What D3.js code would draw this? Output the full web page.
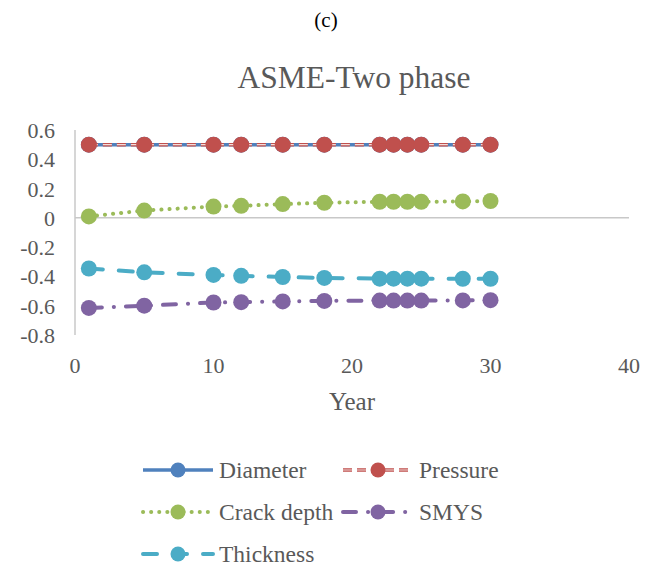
<!DOCTYPE html>
<html><head><meta charset="utf-8">
<script src="https://cdn.jsdelivr.net/npm/d3@7"></script>
<style>body{margin:0;background:#fff}svg{display:block}
text{font-family:"Liberation Serif","Times New Roman","DejaVu Serif",serif;}</style>
</head><body>
<script>
const years = [1,5,10,12,15,18,22,23,24,25,28,30];
const diameter = [0.5,0.5,0.5,0.5,0.5,0.5,0.5,0.5,0.5,0.5,0.5,0.5];
const pressure = [0.5,0.5,0.5,0.5,0.5,0.5,0.5,0.5,0.5,0.5,0.5,0.5];
const crackDepth = [0.01,0.05,0.077,0.082,0.094,0.103,0.11,0.11,0.11,0.11,0.112,0.115];
const smys = [-0.615,-0.6,-0.578,-0.576,-0.571,-0.567,-0.565,-0.565,-0.565,-0.565,-0.564,-0.562];
const thickness = [-0.346,-0.372,-0.39,-0.396,-0.404,-0.41,-0.415,-0.415,-0.415,-0.415,-0.416,-0.416];
const xTicks = [0,10,20,30,40];
const yTicks = [0.6,0.4,0.2,0,-0.2,-0.4,-0.6,-0.8];
const seriesNames = ["Diameter","Pressure","Crack depth","SMYS","Thickness"];

const W=656,H=566;
const svg=d3.select("body").append("svg").attr("width",W).attr("height",H);
const x=d3.scaleLinear().domain([0,40]).range([75,629]);
const y=d3.scaleLinear().domain([-0.8,0.6]).range([335,130]);

svg.append("text").attr("x",326).attr("y",27).attr("text-anchor","middle")
  .attr("font-size",21).attr("fill","#000").text("(c)");
svg.append("text").attr("x",354).attr("y",88).attr("text-anchor","middle")
  .attr("font-size",31.5).attr("fill","#595959").text("ASME-Two phase");

// axes
svg.append("line").attr("x1",x(0)).attr("x2",x(0)).attr("y1",y(0.6)).attr("y2",y(-0.8))
  .attr("stroke","#c8c8c8").attr("stroke-width",1.5);
svg.append("line").attr("x1",x(0)).attr("x2",x(40)).attr("y1",y(0)).attr("y2",y(0))
  .attr("stroke","#c8c8c8").attr("stroke-width",1.5);
svg.selectAll(".yt").data(yTicks).enter().append("text")
  .attr("x",55).attr("y",d=>y(d)+8).attr("text-anchor","end")
  .attr("font-size",22).attr("fill","#595959")
  .text(d=>String(d));
svg.selectAll(".xt").data(xTicks).enter().append("text")
  .attr("x",d=>x(d)).attr("y",373).attr("text-anchor","middle")
  .attr("font-size",22).attr("fill","#595959").text(d=>d);
svg.append("text").attr("x",352).attr("y",410).attr("text-anchor","middle")
  .attr("font-size",25).attr("fill","#595959").text("Year");

const styles=[
 {vals:diameter,color:"#4F81BD",dash:null,w:3.5},
 {vals:pressure,color:"#C0504D",dash:"9,5",w:3.5,inner:true},
 {vals:crackDepth,color:"#9BBB59",dash:"0.1,8",w:4,cap:"round"},
 {vals:smys,color:"#8064A2",dash:"13,12,0.1,12",w:4,cap:"round"},
 {vals:thickness,color:"#4BACC6",dash:"14,16",w:4,cap:"round"}
];
const line=d3.line().x(d=>x(d[0])).y(d=>y(d[1]));
const order=[4,3,2,0,1];
order.forEach(i=>{
  const s=styles[i];
  const pts=years.map((yr,j)=>[yr,s.vals[j]]);
  const p=svg.append("path").attr("d",line(pts)).attr("fill","none")
    .attr("stroke",s.color).attr("stroke-width",s.w).attr("stroke-linecap",s.cap||"butt");
  if(s.dash)p.attr("stroke-dasharray",s.dash);
  if(s.inner){
    svg.append("path").attr("d",line(pts)).attr("fill","none")
      .attr("stroke","#f2dcdb").attr("stroke-width",1.2).attr("stroke-dasharray",s.dash);
  }
  svg.selectAll(null).data(pts).enter().append("circle")
    .attr("cx",d=>x(d[0])).attr("cy",d=>y(d[1])).attr("r",8).attr("fill",s.color);
});

// legend
const leg=[
 {i:0,lx:143,ly:470},{i:1,lx:343,ly:470},
 {i:2,lx:143,ly:512},{i:3,lx:343,ly:512},
 {i:4,lx:143,ly:554}
];
leg.forEach(L=>{
  const s=styles[L.i];
  const p=svg.append("line").attr("x1",L.lx).attr("x2",L.lx+70).attr("y1",L.ly).attr("y2",L.ly)
    .attr("stroke",s.color).attr("stroke-width",s.w).attr("stroke-linecap",s.cap||"butt");
  if(s.dash)p.attr("stroke-dasharray",s.dash);
  if(s.inner){
    svg.append("line").attr("x1",L.lx).attr("x2",L.lx+70).attr("y1",L.ly).attr("y2",L.ly)
      .attr("stroke","#f2dcdb").attr("stroke-width",1.2).attr("stroke-dasharray",s.dash);
  }
  svg.append("circle").attr("cx",L.lx+35).attr("cy",L.ly).attr("r",7.5).attr("fill",s.color);
  svg.append("text").attr("x",L.lx+76).attr("y",L.ly+8)
    .attr("font-size",23.5).attr("fill","#595959").text(seriesNames[L.i]);
});
</script>
</body></html>
